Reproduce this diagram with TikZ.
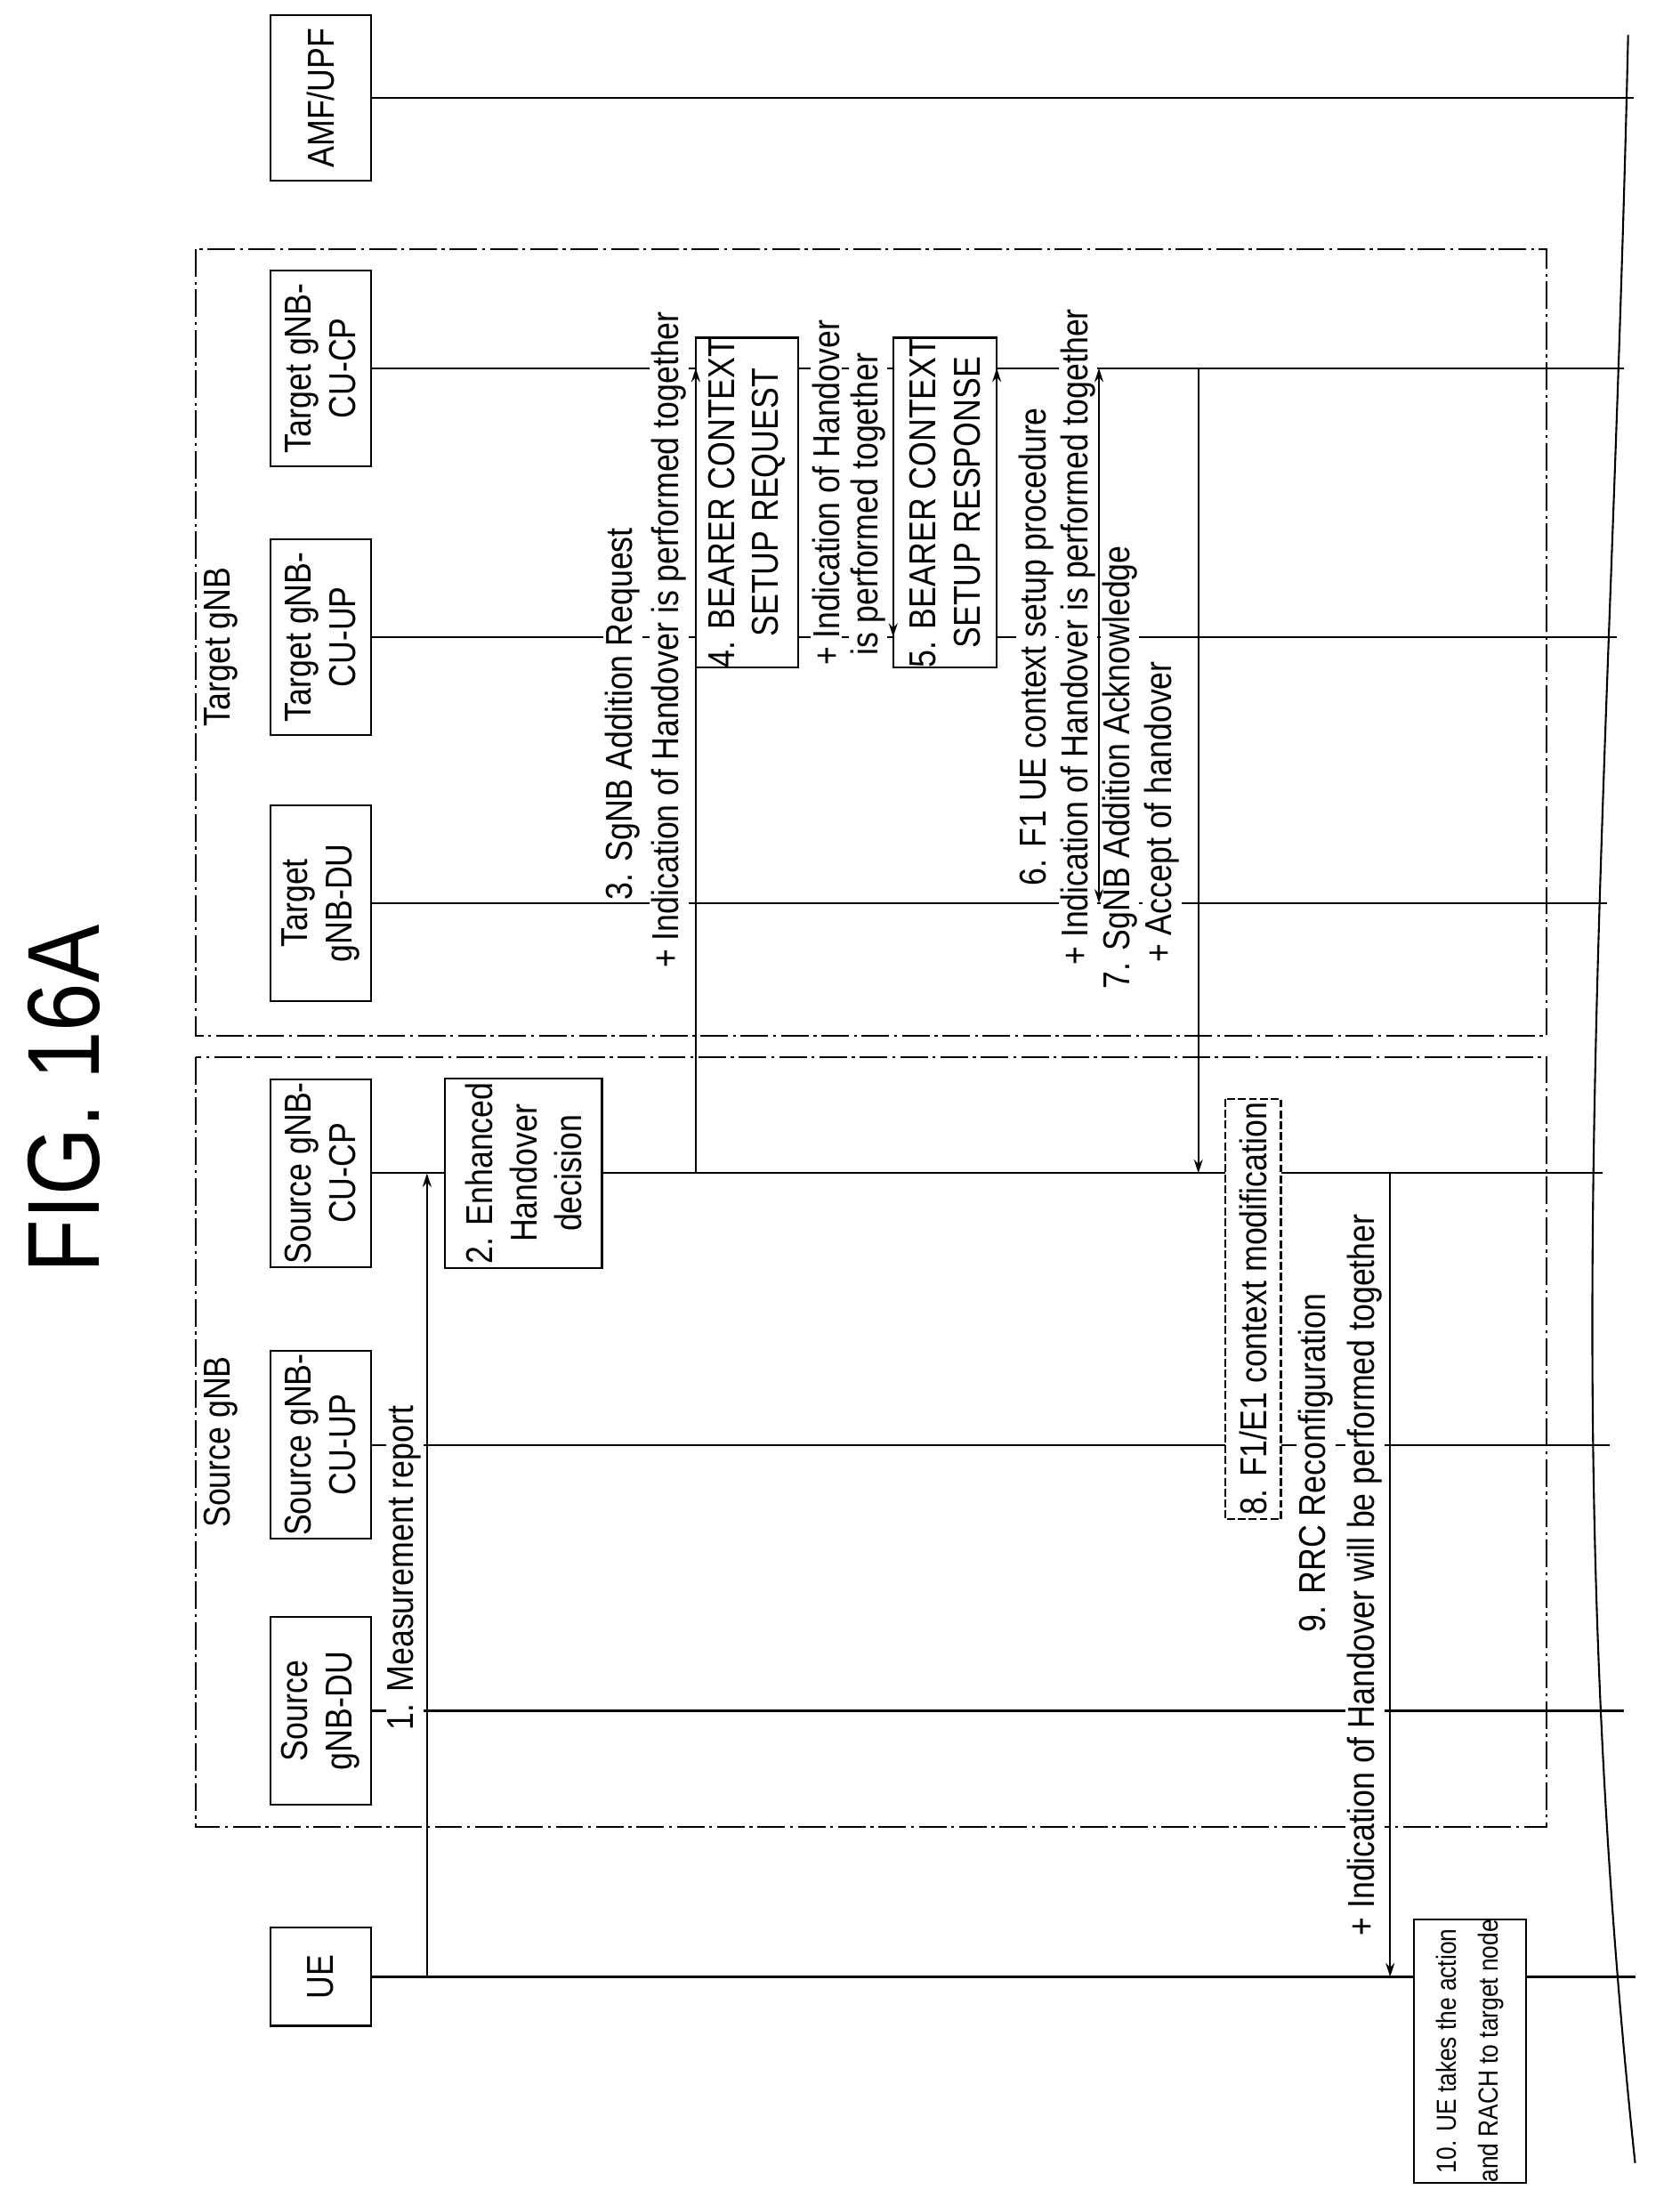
\documentclass[tikz,border=0pt]{standalone}
\usepackage{fontspec}
\setmainfont{Liberation Sans}[FakeStretch=0.85]
\usetikzlibrary{arrows.meta}
\begin{document}
\begin{tikzpicture}[x=0.5mm,y=-0.5mm,
  every node/.style={font=\fontsize{38}{45}\selectfont},
  ln/.style={line width=1.9pt},
  ent/.style={draw,ln,rotate=90,align=center,inner sep=0pt},
  lbl/.style={rotate=90,fill=white,inner sep=2pt,align=center},
  msg/.style={ln,-{Stealth[length=14pt,width=9pt]}},
  grp/.style={line width=1.8pt,dash pattern=on 28pt off 5pt on 3pt off 5pt},
  lif/.style={ln}]
\useasboundingbox (0,0) rectangle (1200,1570);
% title
\node[rotate=90,font=\fontsize{104}{110}\selectfont] (title) at (46,785) {FIG. 16A};
% groups
\draw[grp] (140,755) rectangle (1105,1305);
\draw[grp] (140,178) rectangle (1105,740);
\node[rotate=90] (sg) at (158,1030) {Source gNB};
\node[rotate=90] (tg) at (158,462) {Target gNB};
% entities
\node[ent,minimum width=35mm,minimum height=36mm] (ue) at (229,1412) {UE};
\node[ent,minimum width=67mm,minimum height=36mm] (sdu) at (229,1222) {Source\\gNB-DU};
\node[ent,minimum width=67mm,minimum height=36mm] (sup) at (229,1032) {Source gNB-\\CU-UP};
\node[ent,minimum width=67mm,minimum height=36mm] (scp) at (229,838) {Source gNB-\\CU-CP};
\node[ent,minimum width=70mm,minimum height=36mm] (tdu) at (229,645) {Target\\gNB-DU};
\node[ent,minimum width=70mm,minimum height=36mm] (tup) at (229,455) {Target gNB-\\CU-UP};
\node[ent,minimum width=70mm,minimum height=36mm] (tcp) at (229,263) {Target gNB-\\CU-CP};
\node[ent,minimum width=59mm,minimum height=36mm] (amf) at (229,70) {AMF/UPF};
% lifelines
\draw[lif] (ue.south) -- (1168,1412);
\draw[lif] (sdu.south) -- (1160,1222);
\draw[lif] (sup.south) -- (1150,1032);
\draw[lif] (scp.south) -- (1145,838);
\draw[lif] (tdu.south) -- (1148,645);
\draw[lif] (tup.south) -- (1155,455);
\draw[lif] (tcp.south) -- (1160,263);
\draw[lif] (amf.south) -- (1167,70);
% break curve
\draw[ln] (1163,25) .. controls (1150,600) and (1110,1000) .. (1168,1545);
% boxes
\node[ent,fill=white,minimum width=67.5mm,minimum height=56mm] (b2) at (374,838) {2. Enhanced\\Handover\\decision};
\node[ent,fill=white,minimum width=96mm,minimum height=36.5mm] (b4) at (533.5,359) {4. BEARER CONTEXT\\SETUP REQUEST};
\node[ent,fill=white,minimum width=96mm,minimum height=37mm] (b5) at (675,359) {5. BEARER CONTEXT\\SETUP RESPONSE};
\node[ent,fill=white,dash pattern=on 8pt off 3pt,minimum width=150mm,minimum height=20mm] (b8) at (895,935) {8. F1/E1 context modification};
\node[ent,fill=white,minimum width=92mm,minimum height=40mm,font=\fontsize{28}{42}\selectfont] (b10) at (1050,1465) {10. UE takes the action\\and RACH to target node};
% labels
\node[lbl] (l1) at (289,1120) {1. Measurement report};
\node[lbl] (l3a) at (445,510) {3. SgNB Addition Request};
\node[lbl] (l3b) at (478,457) {+ Indication of Handover is performed together};
\node[lbl] (l4a) at (590,352) {+ Indication of Handover};
\node[lbl] (l4b) at (620,360) {is performed together};
\node[lbl] (l6a) at (740,462) {6. F1 UE context setup procedure};
\node[lbl] (l6b) at (770,455) {+ Indication of Handover is performed together};
\node[lbl] (l7a) at (800,548) {7. SgNB Addition Acknowledge};
\node[lbl] (l7b) at (830,580) {+ Accept of handover};
\node[lbl] (l9a) at (940,1045) {9. RRC Reconfiguration};
\node[lbl] (l9b) at (975,1125) {+ Indication of Handover will be performed together};
% messages
\coordinate (m1s) at (305,1412); \coordinate (m1e) at (305,838);
\coordinate (m3s) at (497,838);  \coordinate (m3e) at (497,263);
\coordinate (m4s) at (638,263);  \coordinate (m4e) at (638,455);
\coordinate (m5s) at (712,455);  \coordinate (m5e) at (712,263);
\coordinate (m6s) at (785,263);  \coordinate (m6e) at (785,645);
\coordinate (m7s) at (856,263);  \coordinate (m7e) at (856,838);
\coordinate (m9s) at (993,838);  \coordinate (m9e) at (993,1412);
\draw[msg] (m1s) -- (m1e);
\draw[msg] (m3s) -- (m3e);
\draw[msg] (m4s) -- (m4e);
\draw[msg] (m5s) -- (m5e);
\draw[msg,{Stealth[length=14pt,width=9pt]}-{Stealth[length=14pt,width=9pt]}] (m6s) -- (m6e);
\draw[msg] (m7s) -- (m7e);
\draw[msg] (m9s) -- (m9e);
\end{tikzpicture}
\end{document}
